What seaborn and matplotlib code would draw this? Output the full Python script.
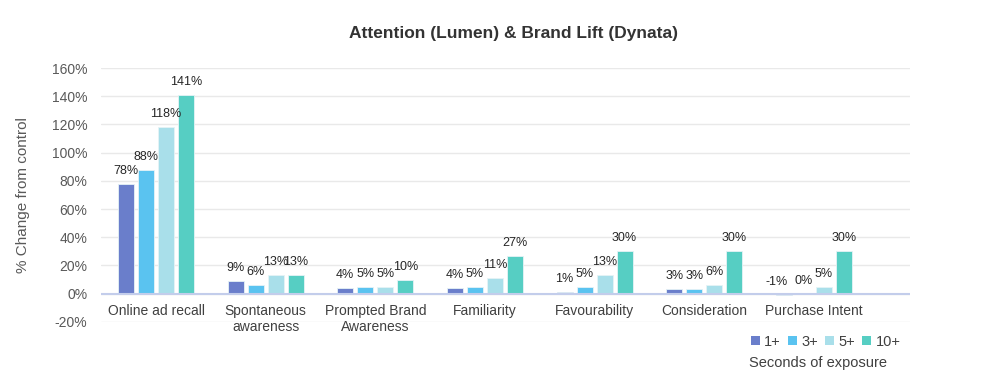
import matplotlib
matplotlib.use("Agg")
import matplotlib.pyplot as plt
import seaborn as sns
import pandas as pd
from matplotlib.ticker import FuncFormatter
from matplotlib.patches import Patch

categories = ["Online ad recall", "Spontaneous\nawareness", "Prompted Brand\nAwareness",
              "Familiarity", "Favourability", "Consideration", "Purchase Intent"]
series = ["1+", "3+", "5+", "10+"]
v_1 = [78, 9, 4, 4, 1, 3, -1]
v_3 = [88, 6, 5, 5, 5, 3, 0]
v_5 = [118, 13, 5, 11, 13, 6, 5]
v_10 = [141, 13, 10, 27, 30, 30, 30]
yticks = [-20, 0, 20, 40, 60, 80, 100, 120, 140, 160]
colors = ["#6A7ECB", "#5AC3F0", "#A9DFEA", "#56CEC3"]

rows = []
for s, vals in zip(series, [v_1, v_3, v_5, v_10]):
    for c, v in zip(categories, vals):
        rows.append({"cat": c, "series": s, "value": v})
df = pd.DataFrame(rows)

sns.set_theme(style="white")
plt.rcParams["font.family"] = ["Liberation Sans", "DejaVu Sans"]

fig = plt.figure(figsize=(9.83, 3.8), dpi=100)
ax = fig.add_axes([0.103, 0.153, 0.823, 0.668])

sns.barplot(data=df, x="cat", y="value", hue="series", order=categories,
            hue_order=series, palette=colors, saturation=1, width=0.73, gap=0.2,
            edgecolor="#E6F3F6", linewidth=0.6, legend=False, ax=ax)

ax.set_ylim(-20, 160)
ax.set_xlim(-0.5, 6.88)
ax.set_yticks(yticks)
ax.yaxis.set_major_formatter(FuncFormatter(lambda v, p: f"{int(v)}%"))
ax.tick_params(axis="y", labelsize=10, labelcolor="#595959", length=0, pad=10)
ax.set_xticks([])
ax.set_xlabel("")
ax.set_ylabel("% Change from control", fontsize=11, color="#595959", labelpad=16)
for sp in ax.spines.values():
    sp.set_visible(False)
ax.grid(axis="y", color="#E9E9E9", linewidth=1)
ax.set_axisbelow(True)
ax.axhline(0, color="#C3CDEB", linewidth=1.5, zorder=1.5)

for cont in ax.containers:
    for bar in cont:
        h = bar.get_height()
        x = bar.get_x() + bar.get_width() / 2
        if h < 0:
            ax.annotate(f"{int(round(h))}%", (x, 0), xytext=(-5, 4),
                        textcoords="offset points", ha="center", va="bottom",
                        fontsize=9, color="#262626")
        else:
            ax.annotate(f"{int(round(h))}%", (x, h), xytext=(0, 5),
                        textcoords="offset points", ha="center", va="bottom",
                        fontsize=9, color="#262626")

for i, c in enumerate(categories):
    ax.text(i, -7.5, c, ha="center", va="top", fontsize=10, color="#404040",
            linespacing=1.15)

fig.text(0.522, 0.912, "Attention (Lumen) & Brand Lift (Dynata)", ha="center",
         va="center", fontsize=12.5, fontweight="bold", color="#333333")

handles = [Patch(facecolor=c, edgecolor="none") for c in colors]
leg = fig.legend(handles, series, loc="center", bbox_to_anchor=(0.840, 0.1),
                 ncol=4, frameon=False, fontsize=10.5, handlelength=0.6,
                 handleheight=0.6, handletextpad=0.3, columnspacing=0.5)
for t in leg.get_texts():
    t.set_color("#404040")
fig.text(0.832, 0.045, "Seconds of exposure", ha="center", va="center",
         fontsize=10.5, color="#404040")

fig.savefig("out.png", dpi=100)
